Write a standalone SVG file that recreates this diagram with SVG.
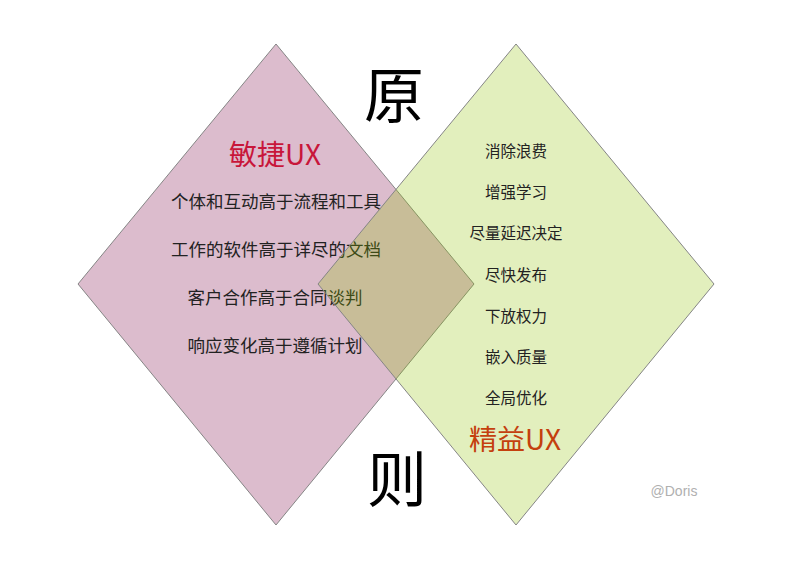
<svg xmlns="http://www.w3.org/2000/svg" width="800" height="563" viewBox="0 0 800 563">
<style>
.dia{stroke:#858585;stroke-width:1}
.cj{font-family:"Noto Sans CJK SC","Microsoft YaHei",sans-serif;text-anchor:middle}
.item{font-size:17.5px;fill:#222}
.ritem{font-size:15.5px;fill:#222}
.big{font-size:60px;fill:#000}
</style>
<rect width="800" height="563" fill="#ffffff"/>
<g id="agile">
<polygon class="dia" points="276,44 474,284 276,525 78,284" fill="#dcbccd"/>
<text class="cj" x="275" y="165" font-size="28" fill="#c8163a">敏捷UX</text>
<text class="cj item" x="276" y="208">个体和互动高于流程和工具</text>
<text class="cj item" x="276" y="256">工作的软件高于详尽的文档</text>
<text class="cj item" x="275" y="304">客户合作高于合同谈判</text>
<text class="cj item" x="275" y="352">响应变化高于遵循计划</text>
</g>
<g id="lean">
<polygon class="dia" points="516,44 714,284 516,525 318,284" fill="#8fc100" fill-opacity="0.26"/>
<text class="cj ritem" x="516" y="157">消除浪费</text>
<text class="cj ritem" x="516" y="198">增强学习</text>
<text class="cj ritem" x="516" y="239">尽量延迟决定</text>
<text class="cj ritem" x="516" y="281">尽快发布</text>
<text class="cj ritem" x="516" y="322">下放权力</text>
<text class="cj ritem" x="516" y="363">嵌入质量</text>
<text class="cj ritem" x="516" y="404">全局优化</text>
<text class="cj" x="515" y="450" font-size="28" fill="#c4400e">精益UX</text>
</g>
<g id="titles">
<text class="cj big" x="394" y="118">原</text>
<text class="cj big" x="397" y="502">则</text>
<text x="674" y="496" font-family="Liberation Sans, sans-serif" font-size="14" fill="#b0b0b0" text-anchor="middle">@Doris</text>
</g>
</svg>
